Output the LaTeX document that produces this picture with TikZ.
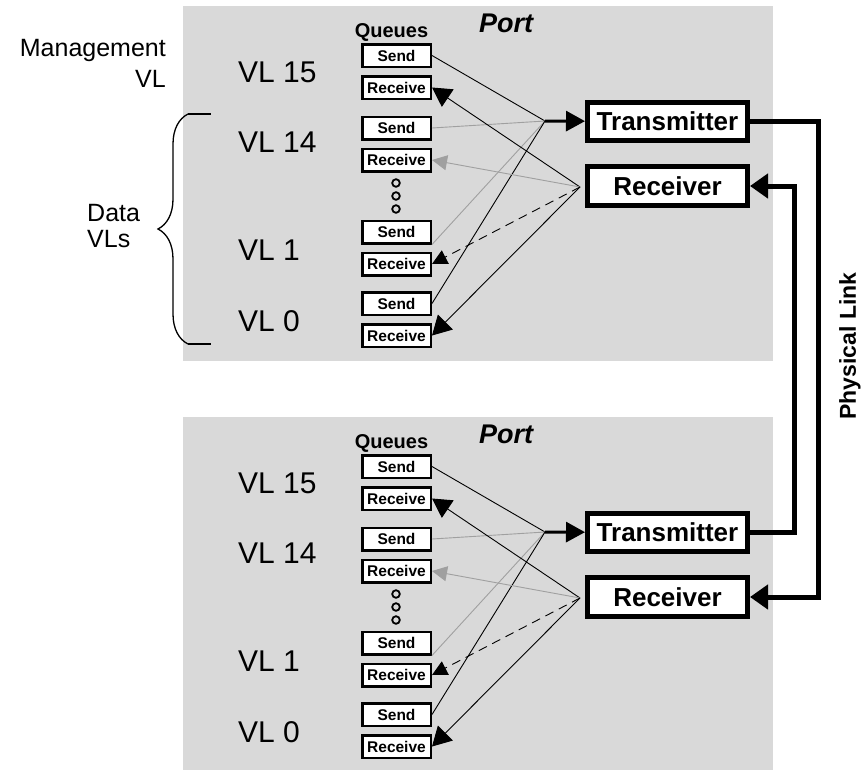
\documentclass[tikz,border=0pt]{standalone}
\usepackage{fontspec}
\setmainfont{Liberation Sans}
\usetikzlibrary{arrows.meta,decorations.pathreplacing}
\definecolor{portgray}{RGB}{217,217,217}
\definecolor{lightline}{RGB}{160,160,160}
\begin{document}
\begin{tikzpicture}[x=1pt,y=-1pt,
  qbox/.style={draw, line width=2.5pt, fill=white, minimum width=68.5pt, minimum height=22.5pt, inner sep=0pt, font=\fontsize{15.5}{18}\selectfont\bfseries},
  ubox/.style={draw, line width=5pt, fill=white, minimum width=160pt, minimum height=38.5pt, inner sep=0pt, font=\fontsize{26}{30}\selectfont\bfseries},
  vllabel/.style={anchor=west, inner sep=0pt, font=\fontsize{30}{36}\selectfont},
  sendline/.style={line width=0.9pt},
  getarr/.style={line width=0.9pt, -{Triangle[length=19pt,width=21pt]}},
  smallarr/.style={line width=0.9pt, -{Triangle[length=15pt,width=15pt]}},
  txarr/.style={line width=3pt, -{Triangle[length=19pt,width=20pt]}},
  link/.style={line width=5pt, -{Triangle[length=18pt,width=24pt]}}]
\useasboundingbox (0,0) rectangle (862,769);

\foreach \p/\dy in {up/0,dn/411} {
  \fill[portgray] (183,6+\dy) rectangle (773,361+\dy);
  \node[inner sep=0pt, font=\fontsize{20}{24}\selectfont\bfseries] (queues-\p) at (391.5,32+\dy) {Queues};
  \node[inner sep=0pt, font=\fontsize{27}{32}\selectfont\bfseries\itshape] (port-\p) at (506,23+\dy) {Port};
  % queues
  \node[qbox] (s15-\p) at (396.5,55.5+\dy) {Send};
  \node[qbox] (r15-\p) at (396.5,87.5+\dy) {Receive};
  \node[qbox] (s14-\p) at (396.5,128+\dy) {Send};
  \node[qbox] (r14-\p) at (396.5,160+\dy) {Receive};
  \node[qbox] (s1-\p) at (396.5,232+\dy) {Send};
  \node[qbox] (r1-\p) at (396.5,264+\dy) {Receive};
  \node[qbox] (s0-\p) at (396.5,303.5+\dy) {Send};
  \node[qbox] (r0-\p) at (396.5,335.5+\dy) {Receive};
  \foreach \y in {183,196,209}
    \draw[line width=1.8pt] (396,\y+\dy) circle (3.8pt);
  % virtual lanes
  \node[vllabel] (vl15-\p) at (238,72.5+\dy) {VL 15};
  \node[vllabel] (vl14-\p) at (238,142.5+\dy) {VL 14};
  \node[vllabel] (vl1-\p) at (238,250+\dy) {VL 1};
  \node[vllabel] (vl0-\p) at (238,321+\dy) {VL 0};
  % transmitter and receiver
  \node[ubox] (tx-\p) at (667.5,121.5+\dy) {Transmitter};
  \node[ubox] (rx-\p) at (667.5,186+\dy) {Receiver};
  \coordinate (tf-\p) at (545,121+\dy);
  \coordinate (rf-\p) at (580,187+\dy);
  \path[draw,sendline] (s15-\p.east) -- (tf-\p);
  \path[draw,sendline,lightline] (s14-\p.east) -- (tf-\p);
  \path[draw,sendline,lightline] (s1-\p.south east) -- (tf-\p);
  \path[draw,sendline] (s0-\p.east) -- (tf-\p);
  \path[draw,txarr] (tf-\p) -- (tx-\p);
  \path[draw,getarr] (rf-\p) -- (r15-\p.east);
  \path[draw,smallarr,lightline] (rf-\p) -- (r14-\p.east);
  \path[draw,smallarr,dash pattern=on 9pt off 6pt] (rf-\p) -- (r1-\p.east);
  \path[draw,getarr] (rf-\p) -- (r0-\p.east);
}

% lane groups
\node[align=right, anchor=east, inner sep=0pt, font=\fontsize{25}{31}\selectfont] (mgmt) at (166,63) {Management\\VL};
\node[align=left, anchor=west, inner sep=0pt, font=\fontsize{25}{26}\selectfont] (data) at (87,226) {Data\\VLs};
\coordinate (bracetop) at (188,114);
\coordinate (bracebot) at (188,344);
\draw[line width=1.3pt, decorate, decoration={brace, amplitude=30pt, aspect=0.5}] (bracebot) -- (bracetop);
\draw[line width=1.3pt] (bracetop) -- ++(23,0);
\draw[line width=1.3pt] (bracebot) -- ++(23,0);

% physical link
\coordinate (outer) at (818,350);
\coordinate (inner) at (794,350);
\path[draw,link] (tx-up.east) -| (outer) |- (rx-dn.east);
\path[draw,link] (tx-dn.east) -| (inner) |- (rx-up.east);
\node[rotate=90, inner sep=0pt, font=\fontsize{23}{28}\selectfont\bfseries] (plink) at (850,346) {Physical Link};
\end{tikzpicture}
\end{document}
